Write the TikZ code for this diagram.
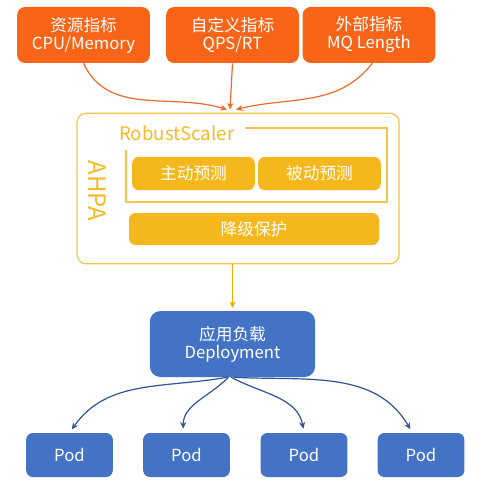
\documentclass[tikz,border=0pt]{standalone}
\usepackage{fontspec}
\setmainfont{Noto Sans CJK SC}
\usetikzlibrary{arrows.meta,calc}
\definecolor{orng}{HTML}{F86418}
\definecolor{orarrow}{HTML}{EE6A2B}
\definecolor{gold}{HTML}{F4B81C}
\definecolor{goldline}{HTML}{F6C44C}
\definecolor{goldtext}{HTML}{F5BA26}
\definecolor{goldarrow}{HTML}{F2AE00}
\definecolor{blu}{HTML}{4472C4}
\definecolor{bluarrow}{HTML}{2F5597}
\begin{document}
\begin{tikzpicture}[x=0.75pt,y=-0.75pt,
  metric/.style={fill=orng,rounded corners=6pt,minimum width=99.5pt,minimum height=42pt,text=white,align=center,font=\fontsize{12.5}{13.5}\selectfont,inner sep=0pt},
  subbox/.style={fill=gold,rounded corners=5pt,text=white,font=\fontsize{12.5}{14}\selectfont,inner sep=0pt},
  bluebox/.style={fill=blu,text=white,align=center,inner sep=0pt},
  podbox/.style={bluebox,rounded corners=5pt,minimum width=65pt,minimum height=33pt,font=\fontsize{12.5}{14}\selectfont},
  oarr/.style={draw=orarrow,line width=0.9pt,-{Stealth[length=5pt,width=4.5pt]}},
  barr/.style={draw=bluarrow,line width=0.9pt,-{Stealth[length=5pt,width=4.5pt]},shorten >=3pt},
]
\useasboundingbox[fill=white] (0,0) rectangle (476,485);
% top metric boxes
\node[metric] (m1) at (83.5,35) {资源指标\\CPU/Memory};
\node[metric] (m2) at (232.5,35) {自定义指标\\QPS/RT};
\node[metric] (m3) at (369,35) {外部指标\\MQ Length};
% AHPA container
\node[draw=goldline,line width=0.9pt,rounded corners=7pt,minimum width=241.5pt,minimum height=113pt,inner sep=0pt] (ahpa) at (238,188.5) {};
\node[text=goldtext,rotate=-90,font=\fontsize{18}{20}\selectfont] (ahpalbl) at (97,191) {AHPA};
\node[text=goldtext,font=\fontsize{14}{16}\selectfont,anchor=west,inner sep=0pt] (rs) at (119,133) {RobustScaler};
\draw[goldline,line width=0.9pt] (245,128) -- (387,128) -- (387,202) -- (126,202) -- (126,150);
\node[subbox,minimum width=92pt,minimum height=25pt] (zd) at (193.5,173.5) {主动预测};
\node[subbox,minimum width=92pt,minimum height=25pt] (bd) at (319.5,173.5) {被动预测};
\node[subbox,minimum width=187.5pt,minimum height=24pt] (jj) at (254,229) {降级保护};
% deployment
\node[bluebox,rounded corners=8pt,minimum width=124pt,minimum height=49.5pt,font=\fontsize{12.5}{13.5}\selectfont] (dep) at (232.5,344) {应用负载\\Deployment};
% pods
\node[podbox] (p1) at (69.5,455) {Pod};
\node[podbox] (p2) at (186.5,455) {Pod};
\node[podbox] (p3) at (304,455) {Pod};
\node[podbox] (p4) at (421,455) {Pod};
% metric arrows
\coordinate (t1) at ($(ahpa.north)+(-11,-3)$);
\coordinate (t2) at ($(ahpa.north)+(-8,-3)$);
\coordinate (t3) at ($(ahpa.north)+(-2,-3)$);
\draw[oarr] (m1.south) to[out=-65,in=163] (t1);
\draw[oarr] (m2.south) -- (t2);
\draw[oarr] ([xshift=2.5pt]m3.south) to[out=-128,in=14] (t3);
% ahpa to deployment
\draw[draw=goldarrow,line width=0.9pt,-{Stealth[length=5pt,width=4.5pt]},shorten >=2pt] (ahpa.south -| dep.north) -- (dep.north);
% deployment to pods
\draw[barr] ([xshift=-4pt]dep.south) to[out=190,in=55] (p1.north);
\draw[barr] ([xshift=-3pt]dep.south) to[out=-135,in=90] ([xshift=-2.5pt]p2.north);
\draw[barr] ([xshift=-1pt]dep.south) to[out=-28,in=100] (p3.north);
\draw[barr] ([xshift=1pt]dep.south) to[out=-3,in=120] ([xshift=-6.5pt]p4.north);
\end{tikzpicture}
\end{document}
